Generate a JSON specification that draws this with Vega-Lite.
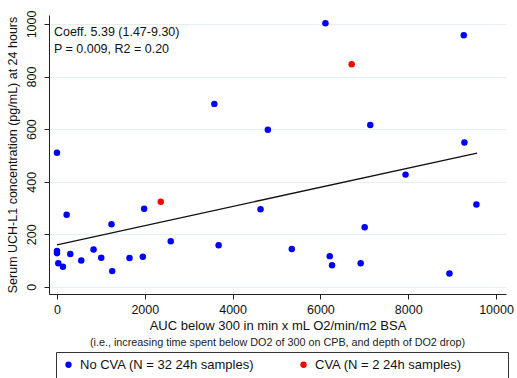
{
  "$schema": "https://vega.github.io/schema/vega-lite/v6.json",
  "width": 457,
  "height": 279,
  "autosize": {"type": "none"},
  "padding": {"left": 49, "top": 15, "right": 11, "bottom": 84},
  "background": "white",
  "config": {
    "font": "Liberation Sans",
    "view": {"stroke": null},
    "axis": {"labelColor": "#111", "titleColor": "#111", "domainColor": "#222", "tickColor": "#222"}
  },
  "title": {
    "text": "(i.e., increasing time spent below DO2 of 300 on CPB, and depth of DO2 drop)",
    "orient": "bottom",
    "anchor": "middle",
    "fontSize": 10.8,
    "fontWeight": "normal",
    "color": "#222",
    "offset": 4,
    "dy": -46
  },
  "datasets": {
    "pts": [
      {"auc": 0, "uchl1": 510, "group": "No CVA"},
      {"auc": 3584, "uchl1": 696, "group": "No CVA"},
      {"auc": 6114, "uchl1": 1003, "group": "No CVA"},
      {"auc": 9265, "uchl1": 957, "group": "No CVA"},
      {"auc": 4803, "uchl1": 598, "group": "No CVA"},
      {"auc": 7136, "uchl1": 616, "group": "No CVA"},
      {"auc": 9280, "uchl1": 549, "group": "No CVA"},
      {"auc": 7939, "uchl1": 427, "group": "No CVA"},
      {"auc": 220, "uchl1": 274, "group": "No CVA"},
      {"auc": 1985, "uchl1": 297, "group": "No CVA"},
      {"auc": 1242, "uchl1": 238, "group": "No CVA"},
      {"auc": 2591, "uchl1": 174, "group": "No CVA"},
      {"auc": 3682, "uchl1": 158, "group": "No CVA"},
      {"auc": 0, "uchl1": 137, "group": "No CVA"},
      {"auc": 0, "uchl1": 128, "group": "No CVA"},
      {"auc": 30, "uchl1": 90, "group": "No CVA"},
      {"auc": 136, "uchl1": 77, "group": "No CVA"},
      {"auc": 303, "uchl1": 125, "group": "No CVA"},
      {"auc": 553, "uchl1": 100, "group": "No CVA"},
      {"auc": 833, "uchl1": 142, "group": "No CVA"},
      {"auc": 1008, "uchl1": 111, "group": "No CVA"},
      {"auc": 1258, "uchl1": 60, "group": "No CVA"},
      {"auc": 1652, "uchl1": 110, "group": "No CVA"},
      {"auc": 1955, "uchl1": 115, "group": "No CVA"},
      {"auc": 4636, "uchl1": 295, "group": "No CVA"},
      {"auc": 9553, "uchl1": 313, "group": "No CVA"},
      {"auc": 7008, "uchl1": 227, "group": "No CVA"},
      {"auc": 5348, "uchl1": 144, "group": "No CVA"},
      {"auc": 6212, "uchl1": 117, "group": "No CVA"},
      {"auc": 6265, "uchl1": 82, "group": "No CVA"},
      {"auc": 6917, "uchl1": 90, "group": "No CVA"},
      {"auc": 8939, "uchl1": 51, "group": "No CVA"},
      {"auc": 2364, "uchl1": 324, "group": "CVA"},
      {"auc": 6712, "uchl1": 847, "group": "CVA"}
    ],
    "fit": [
      {"auc": 0, "uchl1": 160},
      {"auc": 9568, "uchl1": 509}
    ],
    "note": [
      {"auc": -70, "uchl1": 970}
    ]
  },
  "layer": [
    {
      "data": {"name": "fit"},
      "mark": {"type": "line", "color": "#111", "strokeWidth": 1.3},
      "encoding": {
        "x": {"field": "auc", "type": "quantitative"},
        "y": {"field": "uchl1", "type": "quantitative"}
      }
    },
    {
      "data": {"name": "pts"},
      "mark": {"type": "point", "filled": true, "opacity": 1, "size": 42},
      "encoding": {
        "x": {
          "field": "auc", "type": "quantitative",
          "scale": {"domain": [-182, 10227], "nice": false, "zero": false},
          "axis": {
            "values": [0, 2000, 4000, 6000, 8000, 10000],
            "format": "d",
            "grid": false,
            "title": "AUC below 300 in min x mL O2/min/m2 BSA",
            "titleFontSize": 13, "titleFontWeight": "normal", "titlePadding": 4,
            "labelFontSize": 12.5, "tickSize": 5, "labelPadding": 4
          }
        },
        "y": {
          "field": "uchl1", "type": "quantitative",
          "scale": {"domain": [-27, 1034], "nice": false, "zero": false},
          "axis": {
            "values": [0, 200, 400, 600, 800, 1000],
            "format": "d",
            "grid": true, "gridColor": "#e6f0f2", "gridWidth": 1,
            "title": "Serum UCH-L1 concentration (pg/mL) at 24 hours",
            "titleFontSize": 12.5, "titleFontWeight": "normal", "titlePadding": 6,
            "labelFontSize": 12.5, "labelAngle": -90, "labelAlign": "center", "labelBaseline": "bottom",
            "tickSize": 5, "labelPadding": 6
          }
        },
        "color": {
          "field": "group", "type": "nominal",
          "scale": {"domain": ["No CVA", "CVA"], "range": ["#0000ff", "#ff0000"]},
          "legend": {
            "title": null,
            "orient": "none",
            "legendX": 7,
            "legendY": 337,
            "direction": "horizontal",
            "strokeColor": "#333",
            "padding": 6,
            "symbolType": "circle",
            "symbolSize": 40,
            "symbolStrokeWidth": 0,
            "labelFontSize": 13,
            "labelColor": "#111",
            "labelOffset": 5,
            "columnPadding": 42,
            "gridAlign": "each",
            "labelLimit": 400,
            "labelExpr": "datum.label == 'No CVA' ? 'No CVA (N = 32 24h samples)' : 'CVA (N = 2 24h samples)\u2800\u2800\u2800\u2800'"
          }
        }
      }
    },
    {
      "data": {"name": "note"},
      "mark": {"type": "text", "align": "left", "baseline": "middle", "fontSize": 12.5, "color": "#111", "lineHeight": 17},
      "encoding": {
        "x": {"field": "auc", "type": "quantitative"},
        "y": {"field": "uchl1", "type": "quantitative"},
        "text": {"value": ["Coeff. 5.39 (1.47-9.30)", "P = 0.009, R2 = 0.20"]}
      }
    }
  ]
}
